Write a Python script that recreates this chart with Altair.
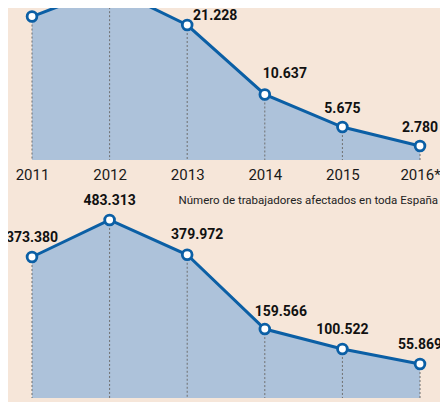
import altair as alt
import pandas as pd

years = ["2011", "2012", "2013", "2014", "2015", "2016*"]
top_values = [22520, 27000, 21228, 10637, 5675, 2780]
bottom_values = [373380, 483313, 379972, 159566, 100522, 55869]
caption = "Número de trabajadores afectados en toda España"


def fmt(v):
    return f"{v:,}".replace(",", ".")


df = pd.DataFrame({
    "year": years,
    "top": top_values,
    "bottom": bottom_values,
    "top_label": [fmt(v) for v in top_values],
    "bottom_label": [fmt(v) for v in bottom_values],
})

FONT = "Roboto"
BG = "#f6e6d9"
AREA = "#adc2da"
LINE = "#0b5fa5"
W, H = 432, 394


def panel(field, label_field, domain, rng, axis_offset, default_dy, shifts):
    x = alt.X(
        "year:N", sort=years,
        scale=alt.Scale(type="point", range=[24, 412], padding=0),
        axis=alt.Axis(title=None, orient="bottom", domain=False, ticks=False, grid=False,
                      labelAngle=0, labelFont=FONT, labelFontSize=15,
                      labelColor="#1a1a1a", labelPadding=7,
                      offset=axis_offset),
    )
    y = alt.Y(f"{field}:Q",
              scale=alt.Scale(domain=domain, range=rng, zero=False, nice=False),
              axis=None)
    base = alt.Chart(df).encode(x=x)
    area = base.mark_area(color=AREA, opacity=1).encode(y=y, y2=alt.datum(domain[0]))
    rule = base.mark_rule(color="#6f6f6f", strokeDash=[2, 2], strokeWidth=1).encode(
        y=y, y2=alt.datum(domain[0]))
    line = base.mark_line(color=LINE, strokeWidth=3).encode(y=y)
    pts = base.mark_point(shape="circle", filled=True, fill="white", stroke=LINE,
                          strokeWidth=2.8, size=95, opacity=1).encode(y=y)
    others = [yv for yv in years if yv not in shifts]
    texts = [
        base.transform_filter(alt.FieldOneOfPredicate(field="year", oneOf=others))
        .mark_text(font=FONT, fontSize=14, fontWeight="bold", color="#111",
                   baseline="middle", dy=default_dy)
        .encode(y=y, text=f"{label_field}:N")
    ]
    for yr, (dx, dy) in shifts.items():
        texts.append(
            base.transform_filter(alt.datum.year == yr)
            .mark_text(font=FONT, fontSize=14, fontWeight="bold", color="#111",
                       baseline="middle", dx=dx, dy=dy)
            .encode(y=y, text=f"{label_field}:N")
        )
    return alt.layer(area, rule, line, pts, *texts)


top = panel("top", "top_label", [650, 27650], [152, -25.12], -(H - 152), -18,
            {"2013": (28, -9), "2014": (20, -20)})
bottom = panel("bottom", "bottom_label", [-45000, 520000], [390, 199.6], -(H - 390), -19,
               {"2013": (10, -20), "2014": (16, -17)})

cap = alt.Chart(pd.DataFrame({"t": [caption]})).mark_text(
    font=FONT, fontSize=11.5, color="#222", align="right", baseline="middle"
).encode(x=alt.value(430), y=alt.value(193), text="t:N")

chart = (
    alt.layer(top, bottom, cap)
    .resolve_scale(y="independent")
    .resolve_axis(x="independent")
    .properties(width=W, height=H, padding=0, background=BG,
                autosize=alt.AutoSizeParams(type="none"))
    .configure_view(stroke=None)
)

chart.save("out.html", embed_options={"renderer": "svg", "actions": False})
